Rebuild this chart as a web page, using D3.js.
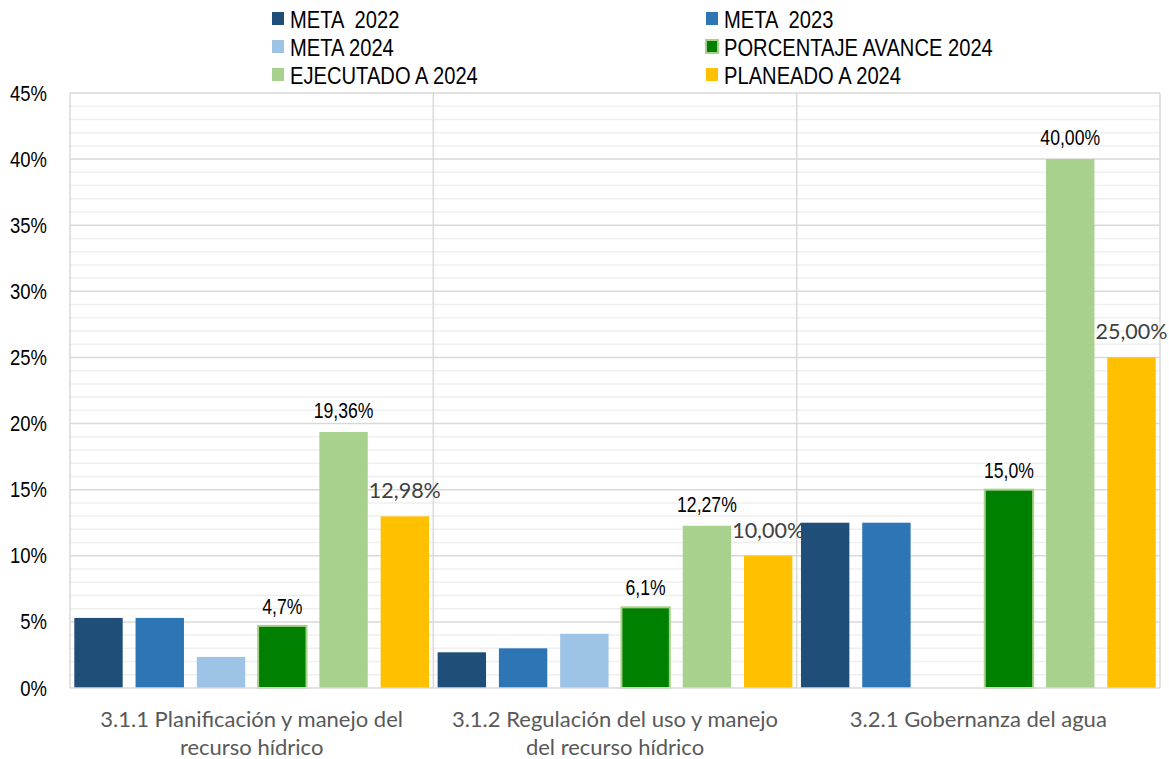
<!DOCTYPE html>
<html>
<head>
  <meta charset="utf-8">
  <title>Avance metas 2024</title>
  <script src="https://d3js.org/d3.v7.min.js"></script>
  <style>
    body { margin: 0; background: #fff; }
    .narrow { font-family: 'Liberation Sans Narrow', 'Arial Narrow', 'Liberation Sans', sans-serif; }
    .cal { font-family: Lato, 'Open Sans', sans-serif; }
  </style>
</head>
<body>
  <script>
// chart data
var categories = [
  ['3.1.1 Planificación y manejo del', 'recurso hídrico'],
  ['3.1.2 Regulación del uso y manejo', 'del recurso hídrico'],
  ['3.2.1 Gobernanza del agua']
];
var series = ['META  2022', 'META  2023', 'META 2024', 'PORCENTAJE AVANCE 2024', 'EJECUTADO A 2024', 'PLANEADO A 2024'];
var colors = ['#1f4e79', '#2e75b6', '#9dc3e6', '#008000', '#a9d18e', '#ffc000'];

var meta2022 = [5.3, 2.7, 12.5];
var meta2023 = [5.3, 3.0, 12.5];
var meta2024 = [2.35, 4.1, 0];
var avance = [4.7, 6.1, 15.0];
var ejecutado = [19.36, 12.27, 40.0];
var planeado = [12.98, 10.0, 25.0];

var avanceLabels = ['4,7%', '6,1%', '15,0%'];
var ejecutadoLabels = ['19,36%', '12,27%', '40,00%'];
var planeadoLabels = ['12,98%', '10,00%', '25,00%'];

var yTicks = [0, 5, 10, 15, 20, 25, 30, 35, 40, 45];

var values = [meta2022, meta2023, meta2024, avance, ejecutado, planeado];

var width = 1169,
    height = 759;
var margin = {left: 70, right: 9, top: 93, bottom: 71};
var squeeze = 0.84; // narrow font fallback

var svg = d3.select('body').append('svg')
  .attr('width', width)
  .attr('height', height);

var x0 = d3.scaleBand()
  .domain(d3.range(categories.length))
  .range([margin.left, width - margin.right]);

var x1 = d3.scaleBand()
  .domain(d3.range(series.length))
  .range([0, x0.bandwidth()])
  .paddingInner(0.21)
  .paddingOuter(0.07);

var y = d3.scaleLinear()
  .domain([0, 45])
  .range([height - margin.bottom, margin.top]);

// minor gridlines
svg.append('g')
  .selectAll('line')
  .data(d3.range(1, 45).filter(function(d) { return d % 5 !== 0; }))
  .enter().append('line')
  .attr('x1', margin.left).attr('x2', width - margin.right)
  .attr('y1', function(d) { return y(d); }).attr('y2', function(d) { return y(d); })
  .attr('stroke', '#efefef')
  .attr('stroke-width', 1.5);

// major gridlines
svg.append('g')
  .selectAll('line')
  .data(yTicks.slice(1))
  .enter().append('line')
  .attr('x1', margin.left).attr('x2', width - margin.right)
  .attr('y1', function(d) { return y(d); }).attr('y2', function(d) { return y(d); })
  .attr('stroke', '#d9d9d9')
  .attr('stroke-width', 1.5);

// vertical category lines
svg.append('g')
  .selectAll('line')
  .data(d3.range(categories.length + 1))
  .enter().append('line')
  .attr('x1', function(d) { return d < categories.length ? x0(d) : x0.range()[1]; })
  .attr('x2', function(d) { return d < categories.length ? x0(d) : x0.range()[1]; })
  .attr('y1', y(45)).attr('y2', y(0))
  .attr('stroke', '#d9d9d9')
  .attr('stroke-width', 1.5);

// y axis
var yAxis = svg.append('g')
  .attr('transform', 'translate(' + margin.left + ',0)')
  .call(d3.axisLeft(y).tickValues(yTicks).tickSize(0)
    .tickFormat(function(d) { return d + '%'; }));
yAxis.select('.domain').remove();
yAxis.selectAll('text')
  .attr('class', 'narrow')
  .attr('font-size', 22)
  .attr('fill', '#000')
  .attr('x', 0)
  .attr('transform', 'translate(-23,0) scale(' + squeeze + ',1)');

// bars
var groups = svg.append('g')
  .selectAll('g')
  .data(categories)
  .enter().append('g')
  .attr('transform', function(d, i) { return 'translate(' + x0(i) + ',0)'; });

groups.selectAll('rect')
  .data(function(d, i) { return values.map(function(v, s) { return {s: s, v: v[i]}; }); })
  .enter().append('rect')
  .filter(function(d) { return d.v > 0; })
  .attr('x', function(d) { return x1(d.s); })
  .attr('width', x1.bandwidth())
  .attr('y', function(d) { return y(d.v); })
  .attr('height', function(d) { return y(0) - y(d.v); })
  .attr('fill', function(d) { return colors[d.s]; })
  .attr('stroke', function(d) { return d.s === 3 ? '#a9d18e' : 'none'; })
  .attr('stroke-width', 2);

// x axis baseline
svg.append('line')
  .attr('x1', margin.left).attr('x2', width - margin.right)
  .attr('y1', y(0)).attr('y2', y(0))
  .attr('stroke', '#d9d9d9')
  .attr('stroke-width', 1.5);

// data labels
function addLabels(s, vals, labels, cls, size, color, dy, sx) {
  svg.append('g')
    .selectAll('text')
    .data(vals)
    .enter().append('text')
    .attr('class', cls)
    .attr('transform', function(d, i) {
      return 'translate(' + (x0(i) + x1(s) + x1.bandwidth() / 2) + ',' + (y(d) - dy) + ') scale(' + sx + ',1)';
    })
    .attr('text-anchor', 'middle')
    .attr('font-size', size)
    .attr('fill', color)
    .text(function(d, i) { return labels[i]; });
}
addLabels(3, avance, avanceLabels, 'narrow', 21.5, '#000', 12, 0.82);
addLabels(4, ejecutado, ejecutadoLabels, 'narrow', 21.5, '#000', 14, 0.82);
addLabels(5, planeado, planeadoLabels, 'cal', 21.5, '#404040', 18, 1);

// category labels
groups.each(function(lines, i) {
  var t = d3.select(this).append('text')
    .attr('class', 'cal')
    .attr('x', x0.bandwidth() / 2)
    .attr('y', 727)
    .attr('text-anchor', 'middle')
    .attr('font-size', 22)
    .attr('fill', '#595959');
  lines.forEach(function(l, k) {
    t.append('tspan')
      .attr('x', x0.bandwidth() / 2)
      .attr('dy', k === 0 ? 0 : 28)
      .text(l);
  });
});

// legend
var legend = svg.append('g')
  .selectAll('g')
  .data(series)
  .enter().append('g')
  .attr('transform', function(d, i) {
    return 'translate(' + (i % 2 === 0 ? 272 : 706) + ',' + (12 + Math.floor(i / 2) * 28) + ')';
  });

legend.append('rect')
  .attr('width', 12).attr('height', 13)
  .attr('fill', function(d, i) { return colors[i]; })
  .attr('stroke', function(d, i) { return i === 3 ? '#a9d18e' : 'none'; })
  .attr('stroke-width', 2);

legend.append('text')
  .attr('class', 'narrow')
  .attr('transform', 'translate(18,16) scale(0.84,1)')
  .attr('font-size', 24)
  .attr('fill', '#000')
  .style('white-space', 'pre')
  .text(function(d) { return d; });
  </script>
</body>
</html>
